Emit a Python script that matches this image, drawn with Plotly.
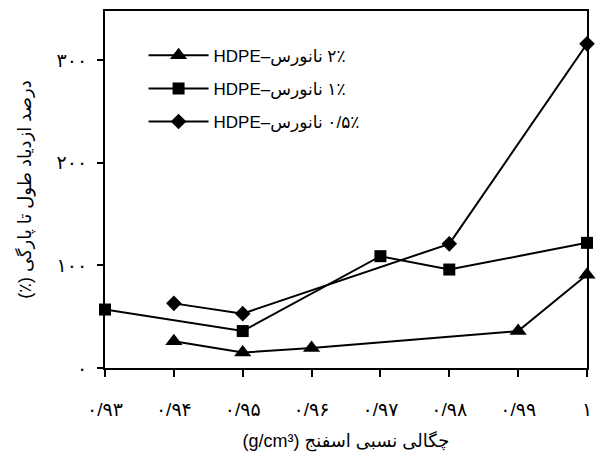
import plotly.graph_objects as go

# Data
x_tri = [0.94, 0.95, 0.96, 0.99, 1.00]
y_tri = [26, 15, 19.5, 36, 91]
x_sq = [0.93, 0.95, 0.97, 0.98, 1.00]
y_sq = [57, 36, 109, 96, 122]
x_dia = [0.94, 0.95, 0.98, 1.00]
y_dia = [63, 53, 121, 316]

x_tickvals = [0.93, 0.94, 0.95, 0.96, 0.97, 0.98, 0.99, 1.00]
x_ticktext = ["۰/۹۳", "۰/۹۴", "۰/۹۵", "۰/۹۶", "۰/۹۷", "۰/۹۸", "۰/۹۹", "۱"]
y_tickvals = [0, 100, 200, 300]
y_ticktext = ["۰", "۱۰۰", "۲۰۰", "۳۰۰"]

names = ["HDPE–نانورس \u200e۲٪", "HDPE–نانورس \u200e۱٪", "HDPE–نانورس \u200e۰/۵٪"]

FONT = "Liberation Sans, DejaVu Sans, Arial, sans-serif"

fig = go.Figure()
series = [
    (x_tri, y_tri, "triangle-up", 15, names[0]),
    (x_sq, y_sq, "square", 12, names[1]),
    (x_dia, y_dia, "diamond", 12, names[2]),
]
for i, (xs, ys, sym, sz, nm) in enumerate(series):
    fig.add_trace(go.Scatter(
        x=xs, y=ys, mode="lines+markers", name=nm,
        legendgroup=f"g{i}",
        line=dict(color="black", width=2),
        marker=dict(symbol=sym, size=sz, color="black"),
        cliponaxis=False,
    ))

fig.update_layout(
    width=596, height=457,
    margin=dict(l=105, r=4, t=11, b=89),
    paper_bgcolor="white", plot_bgcolor="white",
    font=dict(family=FONT, size=17, color="black"),
    showlegend=True,
    legend=dict(x=0.08, y=0.925, xanchor="left", yanchor="top",
                bgcolor="rgba(0,0,0,0)", tracegroupgap=8,
                font=dict(size=17), itemwidth=60),
    xaxis=dict(
        range=[0.93, 1.0], tickvals=x_tickvals, ticktext=x_ticktext,
        showgrid=False, zeroline=False,
        showline=True, linecolor="black", linewidth=2, mirror=True,
        ticks="outside", ticklen=7, tickwidth=2, tickcolor="black",
        ticklabelstandoff=16,
        tickfont=dict(size=19),
        title=dict(text="(g/cm³) چگالی نسبی اسفنج", font=dict(size=18), standoff=16),
    ),
    yaxis=dict(
        range=[0, 348], tickvals=y_tickvals, ticktext=y_ticktext,
        showgrid=False, zeroline=False,
        showline=True, linecolor="black", linewidth=2, mirror=True,
        ticks="outside", ticklen=6, tickwidth=2, tickcolor="black",
        ticklabelstandoff=6,
        tickfont=dict(size=19),
        title=dict(text="(٪) درصد ازدیاد طول تا پارگی", font=dict(size=18), standoff=20),
    ),
)

fig.write_html("out.html")
